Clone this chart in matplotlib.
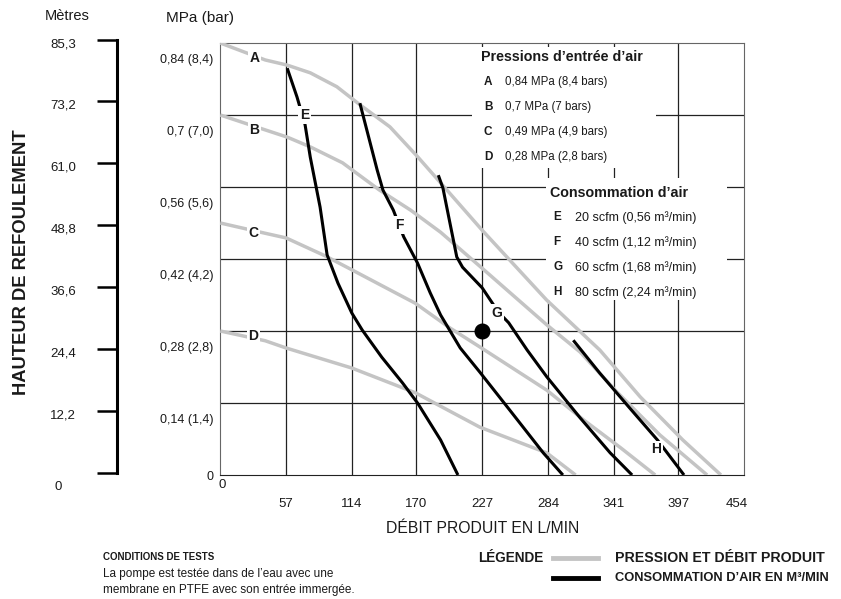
import matplotlib
matplotlib.use("Agg")
import matplotlib.pyplot as plt
import matplotlib.transforms as mtrans
from matplotlib.lines import Line2D
from matplotlib.patches import Rectangle

plt.rcParams['font.family'] = ['Liberation Sans', 'DejaVu Sans']

# gray curves: inlet air pressure (flow L/min, head MPa)
A_x = [0, 39, 58, 78, 101, 121, 147, 171, 191, 227, 283, 329, 364, 401, 434]
A_y = [0.84, 0.807, 0.797, 0.782, 0.755, 0.72, 0.677, 0.619, 0.568, 0.476, 0.34, 0.243, 0.152, 0.068, 0]
B_x = [0, 39, 58, 78, 106, 138, 165, 191, 227, 283, 312, 344, 381, 422]
B_y = [0.70, 0.671, 0.657, 0.638, 0.607, 0.554, 0.515, 0.472, 0.402, 0.292, 0.239, 0.161, 0.078, 0]
C_x = [0, 39, 57, 91, 114, 169, 199, 225, 283, 315, 347, 377]
C_y = [0.49, 0.47, 0.461, 0.426, 0.399, 0.334, 0.286, 0.249, 0.165, 0.107, 0.053, 0]
D_x = [0, 39, 57, 114, 169, 225, 283, 308]
D_y = [0.28, 0.261, 0.247, 0.208, 0.16, 0.093, 0.043, 0]

# black curves: air consumption
E_x = [58, 66.5, 73.5, 78, 86.5, 92.6, 102, 114, 123, 140, 158, 171, 191, 206]
E_y = [0.791, 0.735, 0.681, 0.618, 0.521, 0.428, 0.373, 0.315, 0.282, 0.229, 0.179, 0.14, 0.068, 0]
F_x = [121, 127, 136, 141, 150, 159, 171, 182, 191, 208, 225, 251, 280, 297]
F_y = [0.723, 0.671, 0.593, 0.554, 0.515, 0.463, 0.412, 0.354, 0.311, 0.247, 0.2, 0.126, 0.043, 0]
G_x = [189, 193, 198, 205, 210, 227, 241, 250, 266, 283, 312, 338, 357]
G_y = [0.583, 0.558, 0.502, 0.424, 0.404, 0.364, 0.317, 0.296, 0.243, 0.191, 0.111, 0.043, 0]
H_x = [306, 329, 355, 379, 402]
H_y = [0.262, 0.198, 0.13, 0.068, 0]

point_x, point_y = 227, 0.28

x_ticks = [0, 57, 114, 170, 227, 284, 341, 397, 454]
y_ticks = [0, 0.14, 0.28, 0.42, 0.56, 0.7, 0.84]
y_labels = ['0', '0,14 (1,4)', '0,28 (2,8)', '0,42 (4,2)', '0,56 (5,6)', '0,7 (7,0)', '0,84 (8,4)']
m_ticks = [0, 12.2, 24.4, 36.6, 48.8, 61.0, 73.2, 85.3]
m_labels = ['0', '12,2', '24,4', '36,6', '48,8', '61,0', '73,2', '85,3']

press_keys = ['A', 'B', 'C', 'D']
press_texts = ['0,84 MPa (8,4 bars)', '0,7 MPa (7 bars)', '0,49 MPa (4,9 bars)', '0,28 MPa (2,8 bars)']
cons_keys = ['E', 'F', 'G', 'H']
cons_texts = ['20 scfm (0,56 m³/min)', '40 scfm (1,12 m³/min)', '60 scfm (1,68 m³/min)', '80 scfm (2,24 m³/min)']

gray = '#c4c4c4'
ink = '#1a1a1a'
W, H = 841, 599
fig = plt.figure(figsize=(W / 100, H / 100), dpi=100)
ax = fig.add_axes([220.3 / W, (H - 475) / H, (744 - 220.3) / W, (475 - 43) / H])
ax.set_xlim(0, 454)
ax.set_ylim(0, 0.84)

# grid
for v in x_ticks[1:-1]:
    ax.axvline(v, color='#222222', lw=0.9, zorder=1)
for v in y_ticks[1:-1]:
    ax.axhline(v, color='#222222', lw=0.9, zorder=1)
for s in ax.spines.values():
    s.set_color('#666666')
    s.set_linewidth(0.8)
ax.spines['bottom'].set_color('#222222')

# white boxes for the inner legends
ax.add_patch(Rectangle((218, 0.597), 160, 0.235, facecolor='white', edgecolor='none', zorder=2))
ax.add_patch(Rectangle((282, 0.34), 157, 0.238, facecolor='white', edgecolor='none', zorder=2))

for xs, ys in [(A_x, A_y), (B_x, B_y), (C_x, C_y), (D_x, D_y)]:
    ax.plot(xs, ys, color=gray, lw=2.5, zorder=3, solid_capstyle='butt')
for xs, ys in [(E_x, E_y), (F_x, F_y), (G_x, G_y), (H_x, H_y)]:
    ax.plot(xs, ys, color='black', lw=2.2, zorder=4, solid_capstyle='butt')
ax.plot(point_x, point_y, 'o', color='black', ms=10.5, zorder=5, clip_on=False)

lab_kw = dict(fontsize=10, fontweight='bold', ha='center', va='center', zorder=6, color=ink,
              bbox=dict(facecolor='white', edgecolor='none', pad=1.2))
ax.text(29.5, 0.811, 'A', **lab_kw)
ax.text(29.5, 0.671, 'B', **lab_kw)
ax.text(28.6, 0.471, 'C', **lab_kw)
ax.text(28.6, 0.270, 'D', **lab_kw)
ax.text(73, 0.700, 'E', **lab_kw)
ax.text(155, 0.486, 'F', **lab_kw)
ax.text(240, 0.315, 'G', **lab_kw)
ax.text(378, 0.050, 'H', **lab_kw)

# inner legend texts
ax.text(226, 0.812, "Pressions d’entrée d’air", fontsize=10.3, fontweight='bold', va='center', zorder=6, color=ink)
for i, (k, t) in enumerate(zip(press_keys, press_texts)):
    yy = 0.765 - i * 0.0486
    ax.text(228.5, yy, k, fontsize=8.5, fontweight='bold', va='center', zorder=6, color=ink)
    ax.text(246.5, yy, t, fontsize=8.3, va='center', zorder=6, color=ink)
ax.text(286, 0.548, "Consommation d’air", fontsize=10.3, fontweight='bold', va='center', zorder=6, color=ink)
for i, (k, t) in enumerate(zip(cons_keys, cons_texts)):
    yy = 0.501 - i * 0.0486
    ax.text(288.5, yy, k, fontsize=8.5, fontweight='bold', va='center', zorder=6, color=ink)
    ax.text(307.5, yy, t, fontsize=9, va='center', zorder=6, color=ink)

# ticks
ax.set_xticks(x_ticks)
ax.set_xticklabels([str(v) for v in x_ticks], fontsize=9.5)
ax.set_yticks(y_ticks)
ax.set_yticklabels(y_labels, fontsize=9)
ax.tick_params(axis='both', length=0, colors=ink)
ax.tick_params(axis='x', pad=3)
ax.tick_params(axis='y', pad=5)
xt = ax.get_xticklabels()
for lab in xt[1:-1]:
    lab.set_transform(lab.get_transform() + mtrans.ScaledTranslation(0, -19 / 100, fig.dpi_scale_trans))
xt[-1].set_transform(xt[-1].get_transform() + mtrans.ScaledTranslation(-7 / 100, -19 / 100, fig.dpi_scale_trans))
xt[0].set_transform(xt[0].get_transform() + mtrans.ScaledTranslation(2 / 100, 0, fig.dpi_scale_trans))
yt = ax.get_yticklabels()
for lab in yt[1:]:
    lab.set_transform(lab.get_transform() + mtrans.ScaledTranslation(0, -16 / 100, fig.dpi_scale_trans))
ax.set_xlabel('DÉBIT PRODUIT EN L/MIN', fontsize=11.3, labelpad=8, color=ink)

# metres scale on the far left
axm = fig.add_axes([117 / W, (H - 473) / H, 0.0005, (473 - 40) / H])
axm.set_ylim(0, 85.3)
axm.patch.set_visible(False)
for k in ['top', 'right', 'bottom']:
    axm.spines[k].set_visible(False)
axm.spines['left'].set_linewidth(2.2)
axm.set_xticks([])
axm.set_yticks(m_ticks)
axm.set_yticklabels(m_labels, fontsize=9.5)
axm.tick_params(axis='y', length=14.5, width=1.8, pad=15, colors=ink)
axm.tick_params(axis='y', color='black')
mt = axm.get_yticklabels()
for lab in mt[1:]:
    lab.set_transform(lab.get_transform() + mtrans.ScaledTranslation(0, -3 / 100, fig.dpi_scale_trans))
mt[0].set_transform(mt[0].get_transform() + mtrans.ScaledTranslation(-14 / 100, -12 / 100, fig.dpi_scale_trans))

fig.text(67 / W, 1 - 16 / H, 'Mètres', fontsize=10.5, ha='center', va='center', color=ink)
fig.text(200 / W, 1 - 18 / H, 'MPa (bar)', fontsize=11, ha='center', va='center', color=ink)
fig.text(22 / W, 1 - 262 / H, 'HAUTEUR DE REFOULEMENT', fontsize=13.2, fontweight='bold',
         rotation=90, ha='center', va='center', color=ink)

# bottom notes and legend
fig.text(103 / W, 1 - 557 / H, 'CONDITIONS DE TESTS', fontsize=7, fontweight='bold', va='center', color=ink)
fig.text(103 / W, 1 - 574 / H, 'La pompe est testée dans de l’eau avec une', fontsize=8.5, va='center', color=ink)
fig.text(103 / W, 1 - 590 / H, 'membrane en PTFE avec son entrée immergée.', fontsize=8.5, va='center', color=ink)
fig.text(478 / W, 1 - 558 / H, 'LÉGENDE', fontsize=9.8, fontweight='bold', va='center', color=ink)
fig.add_artist(Line2D([553 / W, 598 / W], [1 - 558 / H, 1 - 558 / H], color=gray, lw=3.5))
fig.add_artist(Line2D([553 / W, 598 / W], [1 - 578 / H, 1 - 578 / H], color='black', lw=3.5))
fig.text(615 / W, 1 - 558 / H, 'PRESSION ET DÉBIT PRODUIT', fontsize=10.2, fontweight='bold', va='center', color=ink)
fig.text(615 / W, 1 - 578 / H, 'CONSOMMATION D’AIR EN M³/MIN', fontsize=9.3, fontweight='bold', va='center', color=ink)

fig.savefig('out.png', dpi=100)
